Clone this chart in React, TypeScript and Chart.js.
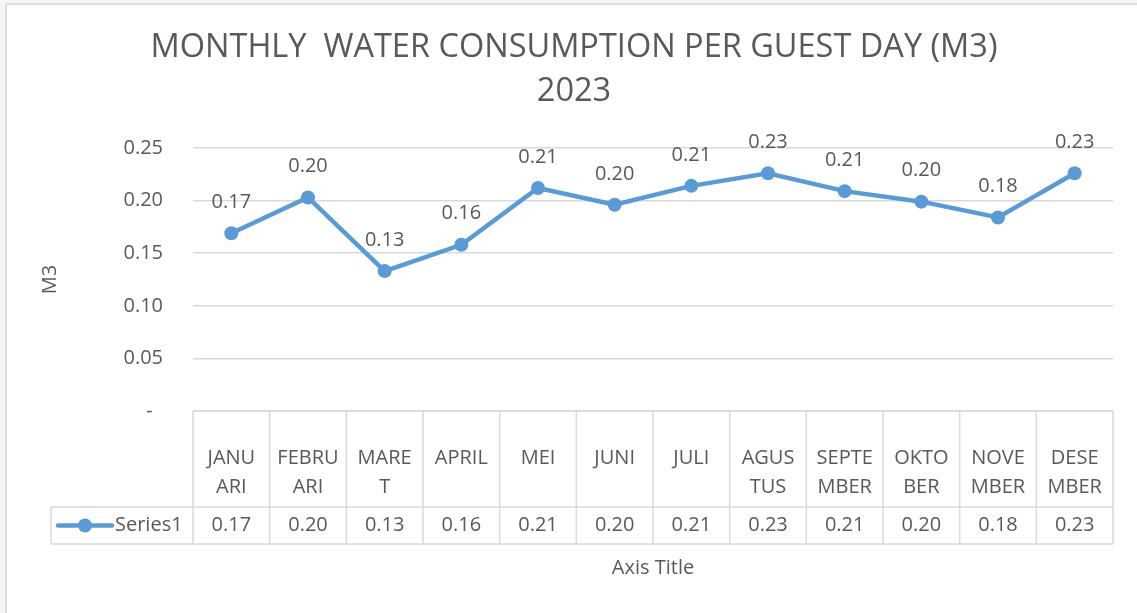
import { useEffect, useRef } from "react";
import { Chart, registerables } from "chart.js";

Chart.register(...registerables);

const categories: string[][] = [
  ["JANU", "ARI"], ["FEBRU", "ARI"], ["MARE", "T"], ["APRIL"], ["MEI"], ["JUNI"],
  ["JULI"], ["AGUS", "TUS"], ["SEPTE", "MBER"], ["OKTO", "BER"], ["NOVE", "MBER"], ["DESE", "MBER"],
];
const series1: number[] = [0.169, 0.203, 0.133, 0.158, 0.212, 0.196, 0.214, 0.226, 0.209, 0.199, 0.184, 0.226];
const seriesName = "Series1";
const titleLines: string[] = ["MONTHLY  WATER CONSUMPTION PER GUEST DAY (M3)", "2023"];
const yAxisTitle = "M3";
const xAxisTitle = "Axis Title";
const yMin = 0;
const yMax = 0.25;
const yStep = 0.05;

const FONT = "'Open Sans', 'Noto Sans', sans-serif";
const TEXT = "#595959";
const GRID = "#d9d9d9";
const LINE = "#5b9bd5";

const fmt = (v: number) => (Math.abs(v) < 1e-9 ? "-  " : v.toFixed(2));

export default function App() {
  const ref = useRef<HTMLCanvasElement | null>(null);

  useEffect(() => {
    const canvas = ref.current;
    if (!canvas) return;

    const labelsPlugin = {
      id: "pointLabels",
      afterDatasetsDraw(chart: any) {
        const ctx = chart.ctx;
        const meta = chart.getDatasetMeta(0);
        ctx.save();
        ctx.font = `20px ${FONT}`;
        ctx.fillStyle = TEXT;
        ctx.textAlign = "center";
        ctx.textBaseline = "middle";
        meta.data.forEach((pt: any, i: number) => {
          ctx.fillText(fmt(series1[i]), pt.x, pt.y - 31);
        });
        ctx.restore();
      },
    };

    const tablePlugin = {
      id: "dataTable",
      afterDraw(chart: any) {
        const ctx = chart.ctx;
        const xs = chart.scales.x;
        const area = chart.chartArea;
        const n = categories.length;
        const colW = (area.right - area.left) / n;
        const top = area.bottom;
        const mid = top + 96;
        const bot = top + 133;
        const legLeft = 51;
        ctx.save();
        ctx.strokeStyle = GRID;
        ctx.lineWidth = 1.5;
        ctx.beginPath();
        ctx.moveTo(area.left, top); ctx.lineTo(area.right, top);
        ctx.moveTo(legLeft, mid); ctx.lineTo(area.right, mid);
        ctx.moveTo(legLeft, bot); ctx.lineTo(area.right, bot);
        for (let i = 0; i <= n; i++) {
          const x = area.left + i * colW;
          ctx.moveTo(x, top); ctx.lineTo(x, bot);
        }
        ctx.moveTo(legLeft, mid); ctx.lineTo(legLeft, bot);
        ctx.stroke();

        ctx.font = `20px ${FONT}`;
        ctx.fillStyle = TEXT;
        ctx.textAlign = "center";
        ctx.textBaseline = "middle";
        const rowY = (mid + bot) / 2;
        series1.forEach((v, i) => {
          ctx.fillText(fmt(v), xs.getPixelForValue(i), rowY);
        });

        ctx.strokeStyle = LINE;
        ctx.lineWidth = 4.5;
        ctx.lineCap = "round";
        ctx.beginPath();
        ctx.moveTo(58, rowY); ctx.lineTo(112, rowY);
        ctx.stroke();
        ctx.fillStyle = LINE;
        ctx.beginPath();
        ctx.arc(85, rowY, 7, 0, Math.PI * 2);
        ctx.fill();
        ctx.fillStyle = TEXT;
        ctx.textAlign = "left";
        ctx.fillText(seriesName, 115, rowY);
        ctx.restore();
      },
    };

    const chart = new Chart(canvas, {
      type: "line",
      data: {
        labels: categories,
        datasets: [
          {
            label: seriesName,
            data: series1,
            borderColor: LINE,
            backgroundColor: LINE,
            borderWidth: 4.5,
            pointRadius: 7,
            pointBorderWidth: 0,
            pointBackgroundColor: LINE,
            tension: 0,
          },
        ],
      },
      options: {
        responsive: false,
        animation: false,
        layout: { padding: { left: 35, right: 24, top: 0, bottom: 0 } },
        plugins: {
          legend: { display: false },
          tooltip: { enabled: false },
          title: {
            display: true,
            text: titleLines,
            color: TEXT,
            font: { family: FONT, size: 32.5, weight: "normal", lineHeight: 44 / 32.5 },
            padding: { top: 26, bottom: 34 },
          },
        },
        scales: {
          x: {
            offset: true,
            grid: { display: false, drawTicks: false, tickLength: 0 },
            border: { display: false },
            ticks: {
              color: TEXT,
              font: { family: FONT, size: 20, lineHeight: 1.45 },
              padding: 33,
              autoSkip: false,
              maxRotation: 0,
              minRotation: 0,
            },
            title: {
              display: true,
              text: xAxisTitle,
              color: TEXT,
              font: { family: FONT, size: 20, lineHeight: 1.2 },
              padding: { top: 0, bottom: 33 },
            },
            afterFit(scale: any) {
              scale.height = 202;
            },
          },
          y: {
            min: yMin,
            max: yMax,
            grid: { color: GRID, lineWidth: 1.5, drawTicks: false, tickLength: 0 },
            border: { display: false },
            ticks: {
              stepSize: yStep,
              color: TEXT,
              font: { family: FONT, size: 20 },
              padding: 30,
              callback: (v: any) => fmt(Number(v)),
            },
            title: {
              display: true,
              text: yAxisTitle,
              color: TEXT,
              font: { family: FONT, size: 20, lineHeight: 1.2 },
              padding: { top: 3, bottom: 0 },
            },
            afterFit(scale: any) {
              scale.width = 158;
            },
          },
        },
      },
      plugins: [labelsPlugin, tablePlugin],
    });

    return () => chart.destroy();
  }, []);

  return (
    <div style={{ position: "fixed", left: 0, top: 0, width: 1137, height: 613, background: "#f8f6f2", overflow: "hidden" }}>
      <div
        style={{
          position: "absolute",
          left: 5,
          top: 3,
          right: 0,
          bottom: 0,
          background: "#ffffff",
          borderLeft: "2px solid #dedede",
          borderTop: "2px solid #dedede",
        }}
      />
      <canvas ref={ref} width={1137} height={613} style={{ position: "absolute", left: 0, top: 0, display: "block" }} />
    </div>
  );
}
